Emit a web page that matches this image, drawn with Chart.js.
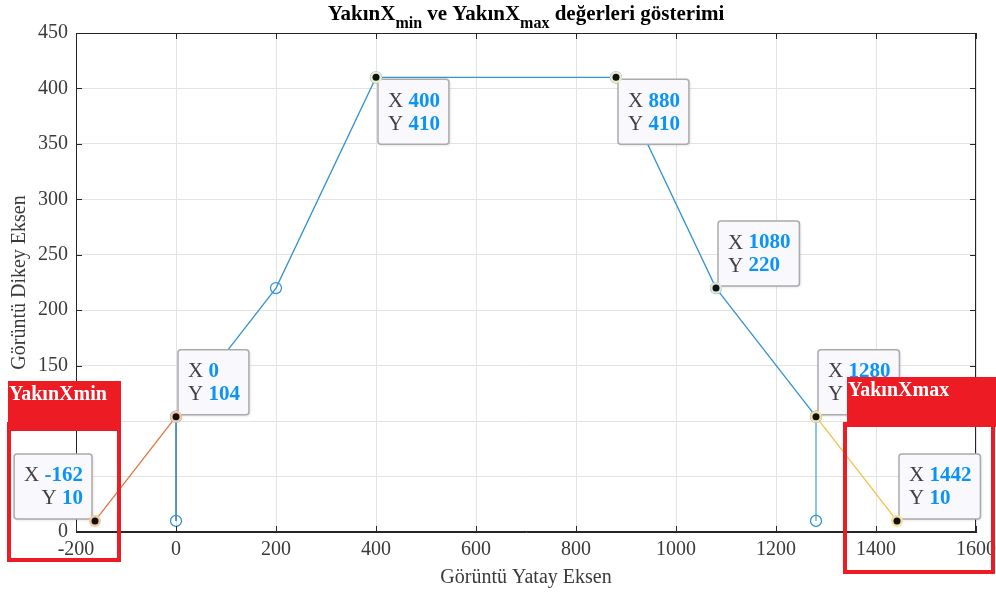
<!DOCTYPE html>
<html>
<head>
<meta charset="utf-8">
<script src="https://cdn.jsdelivr.net/npm/chart.js@4.4.1/dist/chart.umd.min.js"></script>
<style>
  html, body { margin: 0; padding: 0; background: #fff; }
</style>
</head>
<body>
<canvas id="chart" width="996" height="595"></canvas>
<script>
// data
const mainX = [0, 200, 400, 880, 1080, 1280];
const mainY = [104, 220, 410, 410, 220, 104];
const minX = [-162, 0];
const minY = [10, 104];
const maxX = [1280, 1442];
const maxY = [104, 10];
const stemX = [0, 1280];
const stemTop = [104, 104];
const stemBottom = [10, 10];
const tipX = [400, 880, 1080, 0, 1280, -162, 1442];
const tipY = [410, 410, 220, 104, 104, 10, 10];
const boxLabels = ['YakınXmin', 'YakınXmax'];

const serif = '"Liberation Serif", "Times New Roman", serif';
const pts = (xs, ys) => xs.map((x, i) => ({ x: x, y: ys[i] }));

// where each datatip box sits relative to its point
const tipSide = ['br', 'br', 'tr', 'tr', 'tr', 'tl', 'tr'];
const tipHalo = ['#e9edc8', '#e9edc8', '#dce9d8', '#f7c8a4', '#f5e0a0', '#f7c8a4', '#f5e0a0'];

const overlay = {
  id: 'overlay',
  afterDraw(chart) {
    const ctx = chart.ctx;
    const a = chart.chartArea;
    const xs = chart.scales.x, ys = chart.scales.y;

    // box around axes + inward ticks
    ctx.save();
    ctx.strokeStyle = '#262626';
    ctx.lineWidth = 1;
    ctx.strokeRect(a.left + 0.5, a.top + 0.5, a.right - a.left - 1, a.bottom - a.top - 1);
    ctx.beginPath();
    xs.ticks.forEach(t => {
      const px = Math.round(xs.getPixelForValue(t.value)) + 0.5;
      ctx.moveTo(px, a.bottom); ctx.lineTo(px, a.bottom - 6);
      ctx.moveTo(px, a.top); ctx.lineTo(px, a.top + 6);
    });
    ys.ticks.forEach(t => {
      const py = Math.round(ys.getPixelForValue(t.value)) + 0.5;
      ctx.moveTo(a.left, py); ctx.lineTo(a.left + 6, py);
      ctx.moveTo(a.right, py); ctx.lineTo(a.right - 6, py);
    });
    ctx.stroke();
    ctx.restore();

    // title with subscripts
    ctx.save();
    const parts = [['YakınX', 21, 0], ['min', 16, 8], [' ve YakınX', 21, 0], ['max', 16, 8], [' değerleri gösterimi', 21, 0]];
    let w = 0;
    parts.forEach(p => { ctx.font = 'bold ' + p[1] + 'px ' + serif; w += ctx.measureText(p[0]).width; });
    let tx = (a.left + a.right) / 2 - w / 2;
    ctx.fillStyle = '#000';
    ctx.textBaseline = 'alphabetic';
    parts.forEach(p => {
      ctx.font = 'bold ' + p[1] + 'px ' + serif;
      ctx.fillText(p[0], tx, 20 + p[2]);
      tx += ctx.measureText(p[0]).width;
    });
    ctx.restore();

    // datatips
    tipX.forEach((v, i) => {
      const px = xs.getPixelForValue(v);
      const py = ys.getPixelForValue(tipY[i]);
      ctx.save();
      ctx.font = '21px ' + serif;
      const lw = ctx.measureText('X ').width;
      ctx.font = 'bold 21px ' + serif;
      const vx = String(v), vy = String(tipY[i]);
      const w1 = lw + ctx.measureText(vx).width;
      const w2 = lw + ctx.measureText(vy).width;
      const bw = Math.max(w1, w2) + 19, bh = 65;
      const side = tipSide[i];
      const bx = side.includes('l') ? px - 3 - bw : px + 2;
      const by = side.includes('t') ? py - 2 - bh : py + 2;
      ctx.shadowColor = 'rgba(0,0,0,0.15)';
      ctx.shadowBlur = 3;
      ctx.shadowOffsetX = 1;
      ctx.shadowOffsetY = 1;
      ctx.fillStyle = '#f8f8fd';
      ctx.beginPath();
      ctx.roundRect(bx, by, bw, bh, 3);
      ctx.fill();
      ctx.shadowColor = 'transparent';
      ctx.strokeStyle = '#ababab';
      ctx.lineWidth = 1.5;
      ctx.stroke();
      ctx.textBaseline = 'middle';
      const lines = [['X ', vx, w1], ['Y ', vy, w2]];
      lines.forEach((l, k) => {
        const ly = by + 22 + k * 23;
        const lx = side.includes('l') ? bx + bw - 9 - l[2] : bx + 10;
        ctx.font = '21px ' + serif;
        ctx.fillStyle = '#404040';
        ctx.fillText(l[0], lx, ly);
        ctx.font = 'bold 21px ' + serif;
        ctx.fillStyle = '#0b93f5';
        ctx.fillText(l[1], lx + lw, ly);
      });
      // marker
      ctx.beginPath();
      ctx.arc(px, py, 6, 0, Math.PI * 2);
      ctx.fillStyle = tipHalo[i];
      ctx.fill();
      ctx.beginPath();
      ctx.arc(px, py, 3.5, 0, Math.PI * 2);
      ctx.fillStyle = '#111';
      ctx.fill();
      ctx.restore();
    });

    // red annotation boxes
    ctx.save();
    ctx.fillStyle = '#ed1c24';
    ctx.strokeStyle = '#ed1c24';
    ctx.lineWidth = 4;
    ctx.fillRect(8, 381, 113, 50);
    ctx.strokeRect(9, 424, 110, 136);
    ctx.fillRect(847, 377, 149, 50);
    ctx.strokeRect(845, 424, 148, 148);
    ctx.fillStyle = '#fff';
    ctx.font = 'bold 20px ' + serif;
    ctx.textBaseline = 'alphabetic';
    ctx.fillText(boxLabels[0], 9, 400);
    ctx.fillText(boxLabels[1], 848, 396);
    ctx.restore();
  }
};

const tickFmt = v => String(v);

new Chart(document.getElementById('chart'), {
  type: 'line',
  data: {
    datasets: [
      {
        data: pts(mainX, mainY),
        borderColor: '#3593d2',
        borderWidth: 1.3,
        pointRadius: 5.5,
        pointBorderWidth: 1.3,
        pointBackgroundColor: 'rgba(0,0,0,0)',
        pointBorderColor: '#3593d2',
        tension: 0
      },
      {
        data: pts(minX, minY),
        borderColor: '#e4733c',
        borderWidth: 1.3,
        pointRadius: 0
      },
      {
        data: pts(maxX, maxY),
        borderColor: '#f0c04a',
        borderWidth: 1.3,
        pointRadius: 0
      },
      {
        data: [{ x: stemX[0], y: stemTop[0] }, { x: stemX[0], y: stemBottom[0] }],
        borderColor: '#0c5fa6',
        borderWidth: 1.3,
        pointRadius: [0, 5.5],
        pointBorderWidth: 1.3,
        pointBackgroundColor: 'rgba(0,0,0,0)',
        pointBorderColor: '#3593d2'
      },
      {
        data: [{ x: stemX[1], y: stemTop[1] }, { x: stemX[1], y: stemBottom[1] }],
        borderColor: '#57a7dc',
        borderWidth: 1.3,
        pointRadius: [0, 5.5],
        pointBorderWidth: 1.3,
        pointBackgroundColor: 'rgba(0,0,0,0)',
        pointBorderColor: '#3593d2'
      }
    ]
  },
  options: {
    responsive: false,
    animation: false,
    devicePixelRatio: 1,
    layout: { padding: { left: 0, right: 20, top: 33, bottom: 0 } },
    plugins: {
      legend: { display: false },
      title: { display: false },
      tooltip: { enabled: false }
    },
    scales: {
      x: {
        type: 'linear',
        min: -200,
        max: 1600,
        ticks: { stepSize: 200, padding: 6, color: '#3a3a3a', font: { family: serif, size: 20 }, callback: tickFmt },
        grid: { color: '#e3e3e3', drawTicks: false },
        border: { color: '#262626' },
        title: { display: true, text: 'Görüntü Yatay Eksen', color: '#3a3a3a', font: { family: serif, size: 20 }, padding: { bottom: 5 } },
        afterFit: s => { s.height = 63; s.paddingLeft = 0; s.paddingRight = 0; }
      },
      y: {
        type: 'linear',
        min: 0,
        max: 450,
        ticks: { stepSize: 50, padding: 8, color: '#3a3a3a', font: { family: serif, size: 20 }, callback: tickFmt },
        grid: { color: '#e3e3e3', drawTicks: false },
        border: { color: '#262626' },
        title: { display: true, text: 'Görüntü Dikey Eksen', color: '#3a3a3a', font: { family: serif, size: 20 }, padding: { top: 8 } },
        afterFit: s => { s.width = 76; s.paddingTop = 0; s.paddingBottom = 0; }
      }
    }
  },
  plugins: [overlay]
});
</script>
</body>
</html>
